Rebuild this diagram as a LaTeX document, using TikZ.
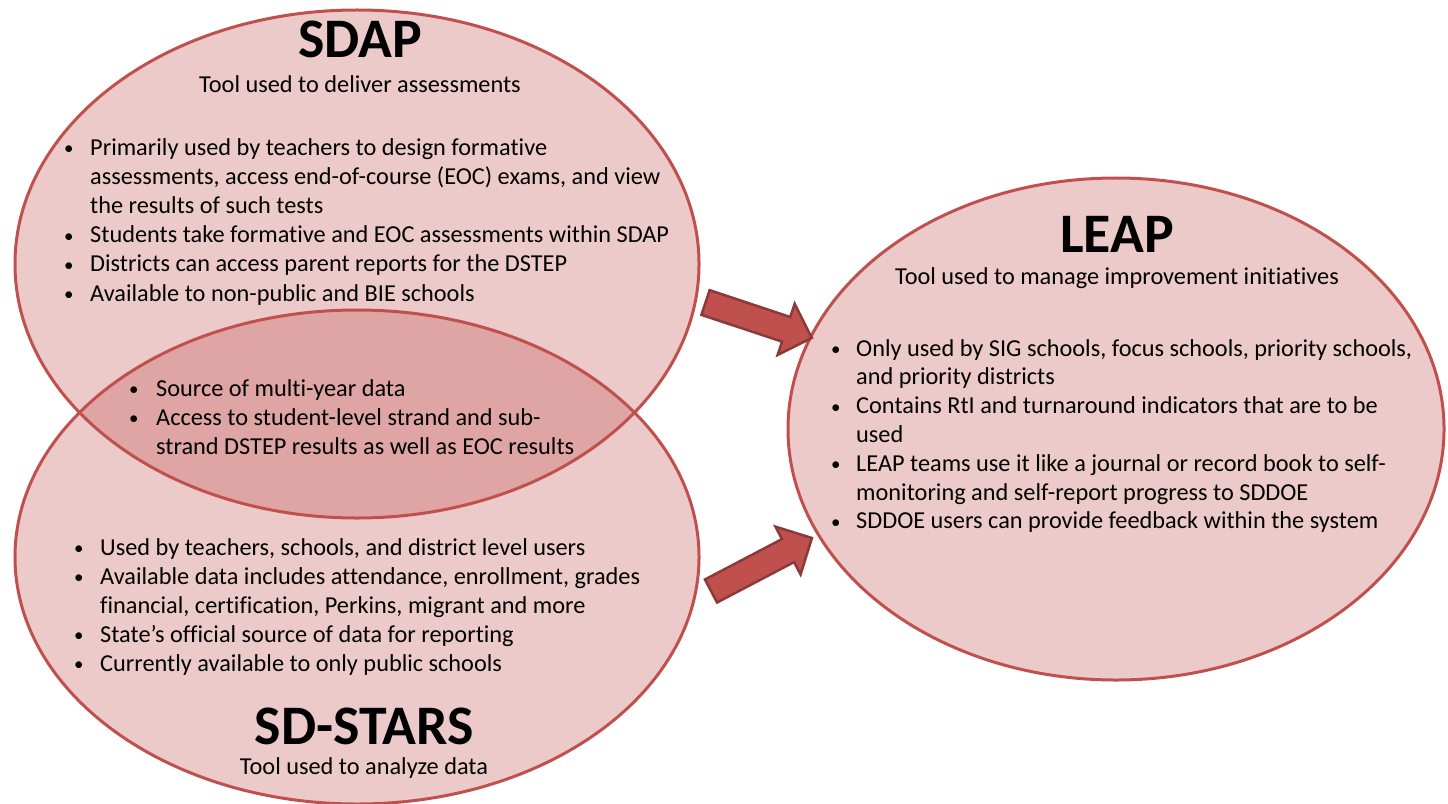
\documentclass[tikz,border=0pt]{standalone}
\usepackage{fontspec}
\setmainfont{Carlito}[Ligatures=NoCommon]
\usetikzlibrary{shapes.geometric}
\definecolor{accent}{HTML}{C0504D}
\definecolor{arrowedge}{HTML}{8C3A38}
\newcommand\blt{{\fontsize{19}{20}\selectfont\raisebox{0.5bp}{\textbullet}}}
\begin{document}
\begin{tikzpicture}[x=1bp,y=-1bp,
  bubble/.style={ellipse, draw=accent, line width=3bp, fill=accent, fill opacity=0.3, draw opacity=1, inner sep=0pt},
  arrowbody/.style={fill=accent, draw=arrowedge, line width=2.5bp, line join=miter},
  txt/.style={font=\fontsize{24.4}{29}\selectfont, inner sep=0pt, anchor=base west},
  ttl/.style={font=\fontsize{56}{60}\selectfont\bfseries, inner sep=0pt, anchor=base, text depth=0pt},
  sub/.style={font=\fontsize{24.4}{29}\selectfont, inner sep=0pt, anchor=base}]
\useasboundingbox (0,0) rectangle (1448,803);

% ellipses
\node[bubble, minimum width=684bp, minimum height=508bp] (sdap) at (357,264) {};
\node[bubble, minimum width=684bp, minimum height=494bp] (stars) at (357,557) {};
\node[bubble, minimum width=656bp, minimum height=502bp] (leap) at (1116,429) {};

% block arrows
\coordinate (a1tail) at (705.5,302.5);
\coordinate (a2tail) at (711,591);
\begin{scope}[shift={(a1tail)}, rotate=-18.4]
  \filldraw[arrowbody] (0,-13) -- (85,-13) -- (85,-27) -- (112,0) -- (85,27) -- (85,13) -- (0,13) -- cycle;
\end{scope}
\begin{scope}[shift={(a2tail)}, rotate=27.7]
  \filldraw[arrowbody] (0,-13) -- (87,-13) -- (87,-27) -- (114,0) -- (87,27) -- (87,13) -- (0,13) -- cycle;
\end{scope}

% titles
\node[ttl] (sdapt) at (360,58) {SDAP};
\node[sub] (sdaps) at (360,92) {Tool used to deliver assessments};
\node[ttl] (starst) at (364,744) {SD-STARS};
\node[sub] (starss) at (364,774) {Tool used to analyze data};
\node[ttl] (leapt) at (1117,252) {LEAP};
\node[sub] (leaps) at (1117,284) {Tool used to manage improvement initiatives};

% SDAP bullets
\foreach \bb/\ln [count=\i] in {
  1/{Primarily used by teachers to design  formative},
  0/{assessments, access end-of-course (EOC) exams, and view},
  0/{the results of such tests},
  1/{Students take formative and EOC assessments within SDAP},
  1/{Districts can access parent reports for the DSTEP},
  1/{Available to non-public and BIE schools}} {
  \node[txt] (sdapl\i) at (90,{155+29.2*(\i-1)}) {\ln};
  \ifnum\bb=1 \node[txt] (sdapb\i) at (64,{155+29.2*(\i-1)}) {\blt}; \fi
}

% overlap bullets
\foreach \bb/\ln [count=\i] in {
  1/{Source of multi-year data},
  1/{Access to student-level strand and sub-},
  0/{strand DSTEP results as well as EOC results}} {
  \node[txt] (bothl\i) at (156,{396+29*(\i-1)}) {\ln};
  \ifnum\bb=1 \node[txt] (bothb\i) at (129,{396+29*(\i-1)}) {\blt}; \fi
}

% SD-STARS bullets
\foreach \bb/\ln [count=\i] in {
  1/{Used by teachers, schools, and district level users},
  1/{Available data includes attendance, enrollment, grades},
  0/{financial, certification, Perkins, migrant and more},
  1/{State’s official source of data for reporting},
  1/{Currently available to only public schools}} {
  \node[txt] (starsl\i) at (100,{555+29*(\i-1)}) {\ln};
  \ifnum\bb=1 \node[txt] (starsb\i) at (74,{555+29*(\i-1)}) {\blt}; \fi
}

% LEAP bullets
\foreach \bb/\ln [count=\i] in {
  1/{Only used by SIG schools, focus schools, priority schools,},
  0/{and priority districts},
  1/{Contains RtI and turnaround indicators  that are to be},
  0/{used},
  1/{LEAP teams  use it like a journal or record book to self-},
  0/{monitoring and self-report progress to SDDOE},
  1/{SDDOE users can provide feedback  within the system}} {
  \node[txt] (leapl\i) at (856,{356+28.8*(\i-1)}) {\ln};
  \ifnum\bb=1 \node[txt] (leapb\i) at (831,{356+28.8*(\i-1)}) {\blt}; \fi
}
\end{tikzpicture}
\end{document}
